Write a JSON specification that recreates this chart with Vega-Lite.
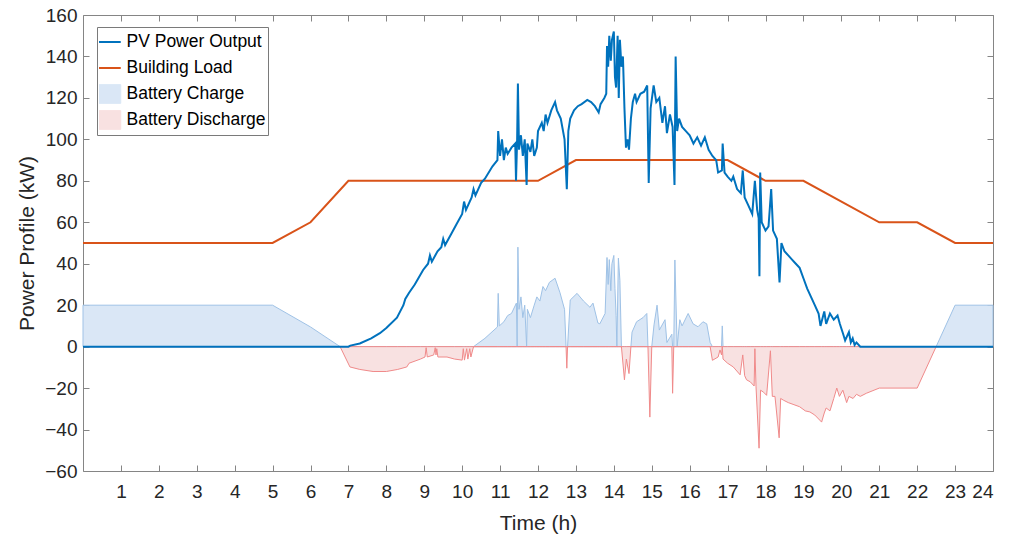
{
  "$schema": "https://vega.github.io/schema/vega-lite/v6.json",
  "width": 910,
  "height": 456,
  "autosize": {"type": "none"},
  "padding": {"left": 83, "top": 15, "right": 20, "bottom": 66},
  "background": "white",
  "config": {
    "view": {"stroke": null},
    "font": "Liberation Sans",
    "axis": {
      "grid": false,
      "domainColor": "#858585",
      "tickColor": "#858585",
      "tickSize": -6,
      "labelFont": "Liberation Sans",
      "labelFontSize": 19,
      "labelColor": "#262626",
      "titleFont": "Liberation Sans",
      "titleFontSize": 21,
      "titleFontWeight": "normal",
      "titleColor": "#262626"
    },
    "legend": {
      "orient": "none",
      "legendX": 14,
      "legendY": 12,
      "labelFont": "Liberation Sans",
      "labelFontSize": 17.5,
      "labelColor": "#000000",
      "labelOffset": 10,
      "symbolSize": 676,
      "symbolType": "M-1,0H1",
      "strokeColor": "#7a7a7a",
      "fillColor": "#ffffff",
      "padding": 2,
      "rowPadding": 0,
      "clipHeight": 26
    }
  },
  "datasets": {
    "pv": [
      {"t":0,"v":0},{"t":7,"v":0},{"t":7.05,"v":0.5},{"t":7.3,"v":1.5},{"t":7.6,"v":4},{"t":7.83,"v":6.5},{"t":8.0,"v":9},{"t":8.28,"v":14},{"t":8.45,"v":20},{"t":8.5,"v":23},{"t":8.6,"v":26},{"t":8.75,"v":30},{"t":8.97,"v":37},{"t":9.1,"v":40},{"t":9.15,"v":44},{"t":9.2,"v":41},{"t":9.35,"v":46},{"t":9.45,"v":48},{"t":9.5,"v":52},{"t":9.55,"v":49},{"t":9.7,"v":54},{"t":9.85,"v":59},{"t":10.0,"v":64},{"t":10.05,"v":70},{"t":10.1,"v":66},{"t":10.25,"v":72},{"t":10.3,"v":76},{"t":10.35,"v":73},{"t":10.5,"v":79},{"t":10.6,"v":81},{"t":10.8,"v":87},{"t":10.93,"v":90},{"t":10.95,"v":104},{"t":11.0,"v":92},{"t":11.05,"v":100},{"t":11.1,"v":90},{"t":11.15,"v":96},{"t":11.2,"v":93},{"t":11.3,"v":96},{"t":11.4,"v":98},{"t":11.42,"v":80},{"t":11.45,"v":100},{"t":11.47,"v":127},{"t":11.5,"v":95},{"t":11.55,"v":102},{"t":11.6,"v":92},{"t":11.65,"v":100},{"t":11.7,"v":78},{"t":11.72,"v":98},{"t":11.8,"v":94},{"t":11.85,"v":100},{"t":11.9,"v":92},{"t":11.97,"v":96},{"t":12.0,"v":104},{"t":12.1,"v":108},{"t":12.15,"v":104},{"t":12.2,"v":112},{"t":12.25,"v":108},{"t":12.35,"v":114},{"t":12.45,"v":118},{"t":12.5,"v":114},{"t":12.6,"v":110},{"t":12.7,"v":100},{"t":12.76,"v":76},{"t":12.8,"v":104},{"t":12.85,"v":110},{"t":12.95,"v":114},{"t":13.05,"v":116},{"t":13.15,"v":117},{"t":13.3,"v":119},{"t":13.4,"v":118},{"t":13.5,"v":116},{"t":13.6,"v":113},{"t":13.65,"v":117},{"t":13.75,"v":120},{"t":13.8,"v":122},{"t":13.82,"v":145},{"t":13.85,"v":135},{"t":13.88,"v":150},{"t":13.92,"v":138},{"t":13.95,"v":148},{"t":14.0,"v":152},{"t":14.03,"v":130},{"t":14.06,"v":125},{"t":14.1,"v":150},{"t":14.13,"v":120},{"t":14.16,"v":148},{"t":14.2,"v":135},{"t":14.24,"v":140},{"t":14.28,"v":115},{"t":14.32,"v":96},{"t":14.36,"v":100},{"t":14.4,"v":95},{"t":14.45,"v":110},{"t":14.5,"v":118},{"t":14.56,"v":122},{"t":14.6,"v":118},{"t":14.7,"v":122},{"t":14.8,"v":123},{"t":14.88,"v":126},{"t":14.92,"v":79},{"t":14.97,"v":115},{"t":15.05,"v":126},{"t":15.12,"v":118},{"t":15.2,"v":120},{"t":15.28,"v":108},{"t":15.35,"v":116},{"t":15.4,"v":103},{"t":15.48,"v":112},{"t":15.55,"v":106},{"t":15.6,"v":78},{"t":15.63,"v":140},{"t":15.67,"v":104},{"t":15.72,"v":110},{"t":15.8,"v":106},{"t":15.9,"v":104},{"t":16.0,"v":102},{"t":16.1,"v":98},{"t":16.2,"v":101},{"t":16.3,"v":97},{"t":16.4,"v":101},{"t":16.5,"v":95},{"t":16.6,"v":92},{"t":16.7,"v":90},{"t":16.75,"v":84},{"t":16.85,"v":85},{"t":16.87,"v":98},{"t":16.92,"v":84},{"t":17.0,"v":82},{"t":17.1,"v":80},{"t":17.15,"v":82},{"t":17.25,"v":76},{"t":17.35,"v":74},{"t":17.4,"v":85},{"t":17.45,"v":72},{"t":17.55,"v":68},{"t":17.65,"v":64},{"t":17.72,"v":80},{"t":17.78,"v":66},{"t":17.82,"v":62},{"t":17.84,"v":34},{"t":17.86,"v":84},{"t":17.9,"v":60},{"t":18.0,"v":56},{"t":18.08,"v":58},{"t":18.15,"v":76},{"t":18.2,"v":56},{"t":18.3,"v":52},{"t":18.37,"v":31},{"t":18.42,"v":50},{"t":18.5,"v":46},{"t":18.6,"v":44},{"t":18.7,"v":42},{"t":18.8,"v":40},{"t":18.9,"v":38},{"t":19.0,"v":33},{"t":19.1,"v":28},{"t":19.2,"v":24},{"t":19.3,"v":20},{"t":19.4,"v":16},{"t":19.45,"v":10},{"t":19.55,"v":17},{"t":19.6,"v":11},{"t":19.7,"v":16},{"t":19.8,"v":13},{"t":19.9,"v":15},{"t":19.96,"v":11},{"t":20.05,"v":6},{"t":20.1,"v":3},{"t":20.2,"v":7},{"t":20.25,"v":2},{"t":20.3,"v":4},{"t":20.35,"v":0.8},{"t":20.4,"v":2},{"t":20.5,"v":0},{"t":24,"v":0}
    ],
    "load": [
      {"t":0,"v":50},{"t":5,"v":50},{"t":6,"v":60},{"t":7,"v":80},{"t":12,"v":80},{"t":13,"v":90},{"t":17,"v":90},{"t":18,"v":80},{"t":19,"v":80},{"t":21,"v":60},{"t":22,"v":60},{"t":23,"v":50},{"t":24,"v":50}
    ],
    "battery": [
      {"t":0,"c":20,"d":0},{"t":5,"c":20,"d":0},{"t":6,"c":9.5,"d":0},{"t":6.78,"c":0,"d":0},{"t":7.04,"c":0,"d":-9.8},{"t":7.3,"c":0,"d":-11},{"t":7.65,"c":0,"d":-12},{"t":8.0,"c":0,"d":-12},{"t":8.3,"c":0,"d":-11},{"t":8.54,"c":0,"d":-9.8},{"t":8.6,"c":0,"d":-8},{"t":8.9,"c":0,"d":-6},{"t":9.02,"c":0,"d":-5},{"t":9.05,"c":0,"d":-0.5},{"t":9.08,"c":0,"d":-5},{"t":9.25,"c":0,"d":-4},{"t":9.29,"c":0,"d":-0.5},{"t":9.31,"c":0,"d":-4},{"t":9.33,"c":0,"d":-1},{"t":9.36,"c":0,"d":-5},{"t":9.6,"c":0,"d":-5},{"t":9.8,"c":0,"d":-6},{"t":10.0,"c":0,"d":-6.5},{"t":10.03,"c":0,"d":-1},{"t":10.06,"c":0,"d":-6.5},{"t":10.12,"c":0,"d":-1},{"t":10.15,"c":0,"d":-6},{"t":10.2,"c":0,"d":-1},{"t":10.23,"c":0,"d":-5},{"t":10.3,"c":0,"d":0},{"t":10.6,"c":4,"d":0},{"t":10.93,"c":9.5,"d":0},{"t":10.95,"c":25.7,"d":0},{"t":10.98,"c":10,"d":0},{"t":11.1,"c":12,"d":0},{"t":11.2,"c":15,"d":0},{"t":11.3,"c":16,"d":0},{"t":11.43,"c":21,"d":0},{"t":11.45,"c":0,"d":0},{"t":11.47,"c":48,"d":0},{"t":11.5,"c":18,"d":0},{"t":11.55,"c":24,"d":0},{"t":11.6,"c":14,"d":0},{"t":11.65,"c":20,"d":0},{"t":11.7,"c":0,"d":0},{"t":11.72,"c":18,"d":0},{"t":11.8,"c":14,"d":0},{"t":11.9,"c":20,"d":0},{"t":11.97,"c":24,"d":0},{"t":12.05,"c":22,"d":0},{"t":12.13,"c":29,"d":0},{"t":12.2,"c":27,"d":0},{"t":12.3,"c":31,"d":0},{"t":12.45,"c":33,"d":0},{"t":12.58,"c":26,"d":0},{"t":12.7,"c":18,"d":0},{"t":12.74,"c":0,"d":0},{"t":12.76,"c":0,"d":-10.4},{"t":12.78,"c":0,"d":0},{"t":12.85,"c":22.5,"d":0},{"t":13.03,"c":25.7,"d":0},{"t":13.2,"c":22,"d":0},{"t":13.37,"c":19,"d":0},{"t":13.45,"c":21,"d":0},{"t":13.58,"c":11.4,"d":0},{"t":13.63,"c":11,"d":0},{"t":13.77,"c":16,"d":0},{"t":13.82,"c":43,"d":0},{"t":13.85,"c":30,"d":0},{"t":13.88,"c":42,"d":0},{"t":13.92,"c":27,"d":0},{"t":13.95,"c":40,"d":0},{"t":14.0,"c":44,"d":0},{"t":14.03,"c":28,"d":0},{"t":14.06,"c":15,"d":0},{"t":14.08,"c":0,"d":0},{"t":14.12,"c":42.7,"d":0},{"t":14.16,"c":32,"d":0},{"t":14.2,"c":0,"d":0},{"t":14.28,"c":0,"d":-16},{"t":14.33,"c":0,"d":-6},{"t":14.4,"c":0,"d":-13},{"t":14.45,"c":0,"d":0},{"t":14.48,"c":7,"d":0},{"t":14.6,"c":12,"d":0},{"t":14.77,"c":14,"d":0},{"t":14.87,"c":16,"d":0},{"t":14.9,"c":0,"d":0},{"t":14.95,"c":0,"d":-34},{"t":15.0,"c":0,"d":0},{"t":15.06,"c":10.5,"d":0},{"t":15.14,"c":20,"d":0},{"t":15.2,"c":8,"d":0},{"t":15.35,"c":13,"d":0},{"t":15.4,"c":2,"d":0},{"t":15.53,"c":6,"d":0},{"t":15.55,"c":0,"d":-22.5},{"t":15.58,"c":0,"d":0},{"t":15.61,"c":41.8,"d":0},{"t":15.67,"c":0,"d":0},{"t":15.74,"c":13,"d":0},{"t":15.8,"c":10,"d":0},{"t":15.96,"c":16,"d":0},{"t":16.09,"c":11,"d":0},{"t":16.22,"c":9.6,"d":0},{"t":16.35,"c":12,"d":0},{"t":16.45,"c":11,"d":0},{"t":16.54,"c":2,"d":0},{"t":16.6,"c":0,"d":-6.6},{"t":16.75,"c":0,"d":-5},{"t":16.8,"c":0,"d":-1.6},{"t":16.84,"c":0,"d":-4},{"t":16.86,"c":10,"d":0},{"t":16.88,"c":0,"d":-6},{"t":17.0,"c":0,"d":-8},{"t":17.15,"c":0,"d":-9.8},{"t":17.33,"c":0,"d":-13.6},{"t":17.4,"c":0,"d":-4},{"t":17.45,"c":0,"d":-14},{"t":17.5,"c":0,"d":-16},{"t":17.6,"c":0,"d":-17},{"t":17.7,"c":0,"d":-19},{"t":17.72,"c":0,"d":-1},{"t":17.75,"c":0,"d":-19.4},{"t":17.83,"c":0,"d":-49},{"t":17.87,"c":0,"d":-21},{"t":17.95,"c":0,"d":-22},{"t":18.03,"c":0,"d":-23.5},{"t":18.13,"c":0,"d":-2},{"t":18.18,"c":0,"d":-24},{"t":18.25,"c":0,"d":-24},{"t":18.36,"c":0,"d":-44},{"t":18.4,"c":0,"d":-25},{"t":18.47,"c":0,"d":-25.8},{"t":18.6,"c":0,"d":-27},{"t":18.75,"c":0,"d":-28},{"t":18.9,"c":0,"d":-29},{"t":19.05,"c":0,"d":-31},{"t":19.17,"c":0,"d":-31.5},{"t":19.3,"c":0,"d":-33},{"t":19.48,"c":0,"d":-36.4},{"t":19.55,"c":0,"d":-32},{"t":19.6,"c":0,"d":-29.6},{"t":19.7,"c":0,"d":-31},{"t":19.8,"c":0,"d":-25},{"t":19.88,"c":0,"d":-20},{"t":19.95,"c":0,"d":-24},{"t":20.04,"c":0,"d":-21},{"t":20.14,"c":0,"d":-27},{"t":20.2,"c":0,"d":-24},{"t":20.31,"c":0,"d":-25},{"t":20.4,"c":0,"d":-23},{"t":20.5,"c":0,"d":-24},{"t":20.66,"c":0,"d":-22.5},{"t":21.0,"c":0,"d":-20},{"t":22.0,"c":0,"d":-20},{"t":22.5,"c":0,"d":0},{"t":23.0,"c":20,"d":0},{"t":24.0,"c":20,"d":0}
    ]
  },
  "layer": [
    {
      "data": {"name": "battery"},
      "mark": {"type": "area", "stroke": "#9fc2e6", "strokeWidth": 1},
      "encoding": {
        "x": {"field": "t", "type": "quantitative", "scale": {"domain": [0, 24], "nice": false, "zero": false},
          "axis": {"orient": "bottom", "values": [1,2,3,4,5,6,7,8,9,10,11,12,13,14,15,16,17,18,19,20,21,22,23,24], "title": "Time (h)", "labelPadding": 17, "titlePadding": 11}},
        "y": {"field": "c", "type": "quantitative", "scale": {"domain": [-60, 160], "nice": false},
          "axis": {"orient": "left", "values": [-60,-40,-20,0,20,40,60,80,100,120,140,160], "title": "Power Profile (kW)", "labelPadding": 12, "titlePadding": 7}},
        "y2": {"datum": 0},
        "color": {
          "datum": "Battery Charge",
          "type": "nominal",
          "scale": {"domain": ["PV Power Output", "Building Load", "Battery Charge", "Battery Discharge"], "range": ["#0072BD", "#D95319", "#dae7f6", "#f8e1e1"]},
          "legend": {"title": null,
            "encode": {"symbols": {"update": {
              "shape": {"signal": "(datum.value == 'Battery Charge' || datum.value == 'Battery Discharge') ? 'M-1,-0.72H1V0.72H-1Z' : 'M-1,0H1'"},
              "fill": {"signal": "datum.value == 'Battery Charge' ? '#dae7f6' : (datum.value == 'Battery Discharge' ? '#f8e1e1' : 'transparent')"},
              "stroke": {"signal": "datum.value == 'PV Power Output' ? '#0072BD' : (datum.value == 'Building Load' ? '#D95319' : (datum.value == 'Battery Charge' ? '#b3cfec' : '#f2bcbc'))"},
              "strokeWidth": {"signal": "(datum.value == 'PV Power Output' || datum.value == 'Building Load') ? 2 : 1"},
              "opacity": {"value": 1}}}}}
        }
      }
    },
    {
      "data": {"name": "battery"},
      "mark": {"type": "area", "stroke": "#f08a8a", "strokeWidth": 1},
      "encoding": {
        "x": {"field": "t", "type": "quantitative",
          "axis": {"orient": "top", "values": [1,2,3,4,5,6,7,8,9,10,11,12,13,14,15,16,17,18,19,20,21,22,23,24], "labels": false, "title": null}},
        "y": {"field": "d", "type": "quantitative",
          "axis": {"orient": "right", "values": [-60,-40,-20,0,20,40,60,80,100,120,140,160], "labels": false, "title": null}},
        "y2": {"datum": 0},
        "color": {"datum": "Battery Discharge", "type": "nominal",
          "legend": {"title": null,
            "encode": {"symbols": {"update": {
              "shape": {"signal": "(datum.value == 'Battery Charge' || datum.value == 'Battery Discharge') ? 'M-1,-0.72H1V0.72H-1Z' : 'M-1,0H1'"},
              "fill": {"signal": "datum.value == 'Battery Charge' ? '#dae7f6' : (datum.value == 'Battery Discharge' ? '#f8e1e1' : 'transparent')"},
              "stroke": {"signal": "datum.value == 'PV Power Output' ? '#0072BD' : (datum.value == 'Building Load' ? '#D95319' : (datum.value == 'Battery Charge' ? '#b3cfec' : '#f2bcbc'))"},
              "strokeWidth": {"signal": "(datum.value == 'PV Power Output' || datum.value == 'Building Load') ? 2 : 1"},
              "opacity": {"value": 1}}}}}}
      }
    },
    {
      "data": {"name": "load"},
      "mark": {"type": "line", "strokeWidth": 2},
      "encoding": {
        "x": {"field": "t", "type": "quantitative", "axis": null},
        "y": {"field": "v", "type": "quantitative", "axis": null},
        "color": {"datum": "Building Load", "type": "nominal",
          "legend": {"title": null,
            "encode": {"symbols": {"update": {
              "shape": {"signal": "(datum.value == 'Battery Charge' || datum.value == 'Battery Discharge') ? 'M-1,-0.72H1V0.72H-1Z' : 'M-1,0H1'"},
              "fill": {"signal": "datum.value == 'Battery Charge' ? '#dae7f6' : (datum.value == 'Battery Discharge' ? '#f8e1e1' : 'transparent')"},
              "stroke": {"signal": "datum.value == 'PV Power Output' ? '#0072BD' : (datum.value == 'Building Load' ? '#D95319' : (datum.value == 'Battery Charge' ? '#b3cfec' : '#f2bcbc'))"},
              "strokeWidth": {"signal": "(datum.value == 'PV Power Output' || datum.value == 'Building Load') ? 2 : 1"},
              "opacity": {"value": 1}}}}}}
      }
    },
    {
      "data": {"name": "pv"},
      "mark": {"type": "line", "strokeWidth": 2},
      "encoding": {
        "x": {"field": "t", "type": "quantitative", "axis": null},
        "y": {"field": "v", "type": "quantitative", "axis": null},
        "color": {"datum": "PV Power Output", "type": "nominal",
          "legend": {"title": null,
            "encode": {"symbols": {"update": {
              "shape": {"signal": "(datum.value == 'Battery Charge' || datum.value == 'Battery Discharge') ? 'M-1,-0.72H1V0.72H-1Z' : 'M-1,0H1'"},
              "fill": {"signal": "datum.value == 'Battery Charge' ? '#dae7f6' : (datum.value == 'Battery Discharge' ? '#f8e1e1' : 'transparent')"},
              "stroke": {"signal": "datum.value == 'PV Power Output' ? '#0072BD' : (datum.value == 'Building Load' ? '#D95319' : (datum.value == 'Battery Charge' ? '#b3cfec' : '#f2bcbc'))"},
              "strokeWidth": {"signal": "(datum.value == 'PV Power Output' || datum.value == 'Building Load') ? 2 : 1"},
              "opacity": {"value": 1}}}}}}
      }
    }
  ],
  "resolve": {"axis": {"x": "independent", "y": "independent"}}
}
